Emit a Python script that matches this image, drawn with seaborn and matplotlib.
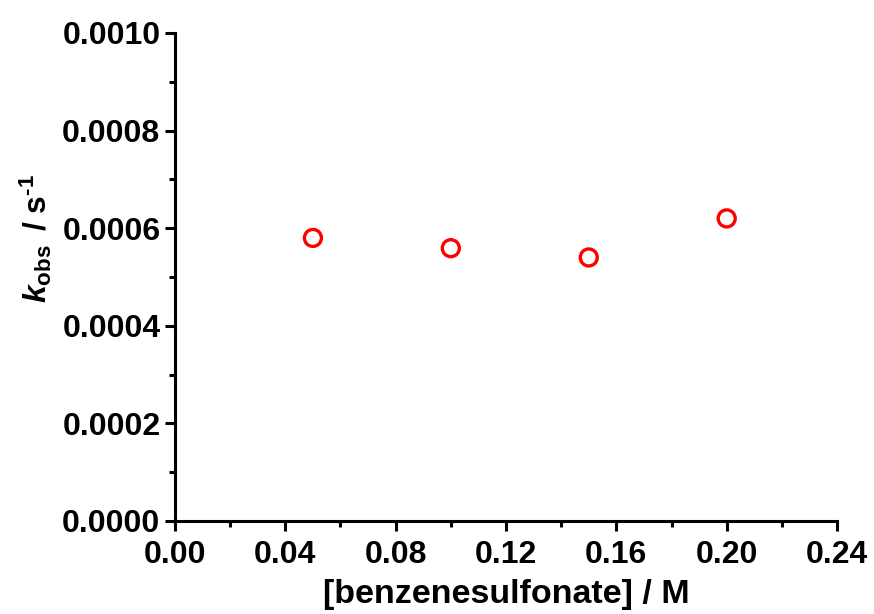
import matplotlib
matplotlib.use("Agg")
import matplotlib.pyplot as plt
from matplotlib.ticker import MultipleLocator, FormatStrFormatter
import seaborn as sns
import pandas as pd

# Observed rate constants versus benzenesulfonate concentration
concentration = [0.05, 0.10, 0.15, 0.20]
k_obs = [0.000580, 0.000559, 0.000540, 0.000620]

df = pd.DataFrame({"conc": concentration, "kobs": k_obs})

sns.set_style("ticks")
plt.rcParams["font.family"] = ["Liberation Sans", "DejaVu Sans"]
plt.rcParams["text.color"] = "black"
plt.rcParams["axes.labelcolor"] = "black"
plt.rcParams["xtick.color"] = "black"
plt.rcParams["ytick.color"] = "black"
plt.rcParams["mathtext.fontset"] = "custom"
plt.rcParams["mathtext.rm"] = "Liberation Sans:bold"
plt.rcParams["mathtext.it"] = "Liberation Sans:bold:italic"
plt.rcParams["mathtext.bf"] = "Liberation Sans:bold"

fig = plt.figure(figsize=(8.74, 6.14), dpi=100)
ax = fig.add_axes([0.2002, 0.1515, 0.7575, 0.7948])

sns.scatterplot(data=df, x="conc", y="kobs", ax=ax, marker="o", s=150,
                facecolors="none", edgecolor="#ff0000", linewidth=2.4,
                legend=False, zorder=3)

ax.set_xlim(0.0, 0.24)
ax.set_ylim(0.0, 0.0010)
ax.xaxis.set_major_locator(MultipleLocator(0.04))
ax.xaxis.set_minor_locator(MultipleLocator(0.02))
ax.yaxis.set_major_locator(MultipleLocator(0.0002))
ax.yaxis.set_minor_locator(MultipleLocator(0.0001))
ax.xaxis.set_major_formatter(FormatStrFormatter("%.2f"))
ax.yaxis.set_major_formatter(FormatStrFormatter("%.4f"))

for side in ["top", "right"]:
    ax.spines[side].set_visible(False)
for side in ["left", "bottom"]:
    ax.spines[side].set_linewidth(2.2)
    ax.spines[side].set_color("black")

ax.tick_params(which="major", direction="out", length=7.5, width=2.2,
               labelsize=23, pad=3, color="black", labelcolor="black")
ax.tick_params(axis="x", which="major", pad=6)
ax.tick_params(which="minor", direction="out", length=4.5, width=2.2,
               color="black")
for lab in ax.get_xticklabels() + ax.get_yticklabels():
    lab.set_fontweight("bold")

ax.set_xlabel("[benzenesulfonate] / M", fontsize=24.5, fontweight="bold",
              color="black", labelpad=7)
ylab = "$k_{\\rm obs}\\,$ / s$^{\\rm \u2010" + "1}$"
ax.set_ylabel(ylab, fontsize=23, fontweight="bold", color="black")
ax.yaxis.set_label_coords(-0.182, 0.58)

fig.savefig("out.png", dpi=100, facecolor="white")
